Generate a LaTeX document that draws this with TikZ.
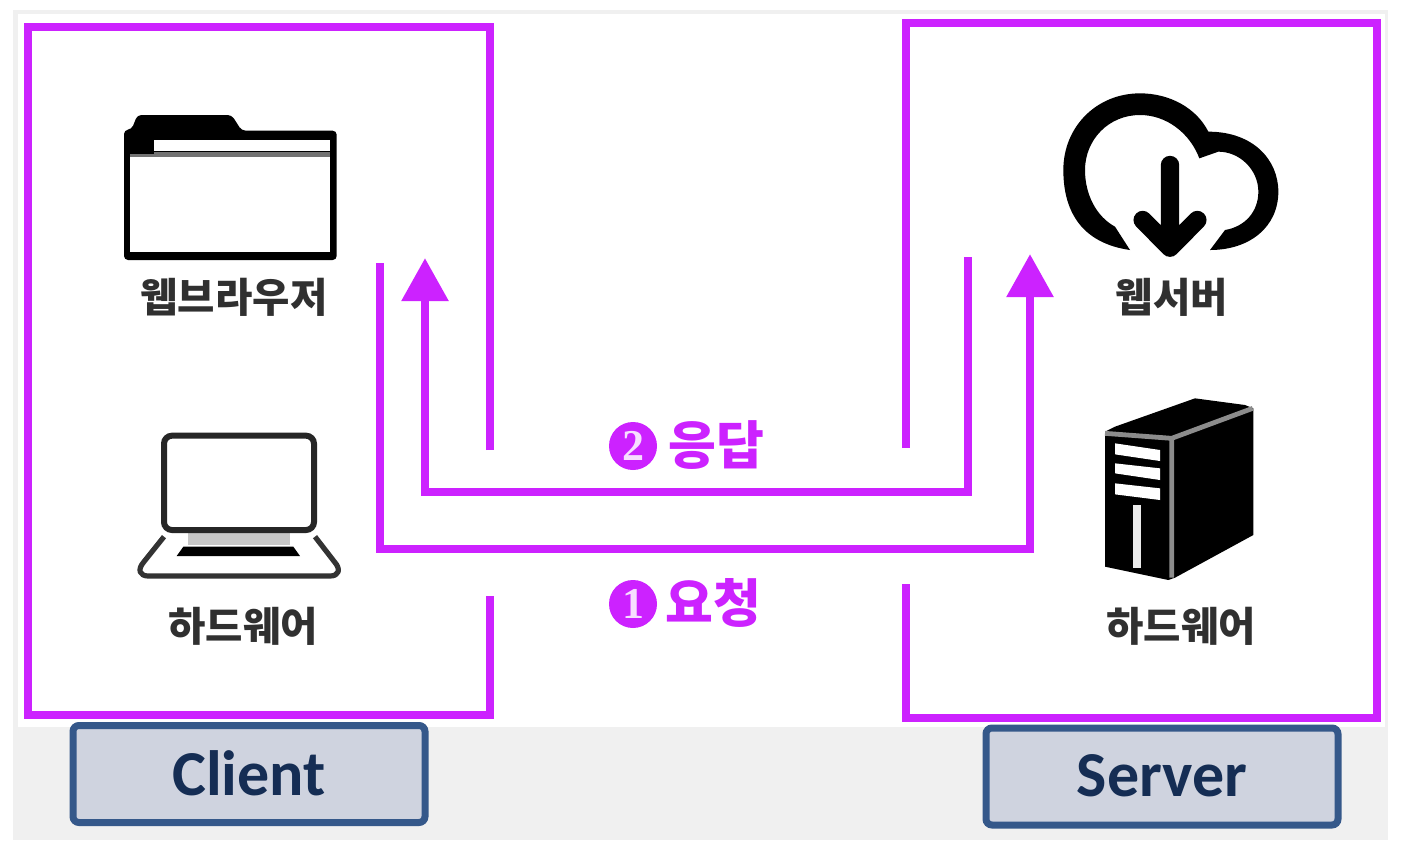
\documentclass[tikz,border=0pt]{standalone}
\usepackage{fontspec}
\usetikzlibrary{arrows.meta}
\newfontfamily\krfont{Noto Sans CJK KR}
\newfontfamily\digitfont{Liberation Serif}
\setmainfont{Carlito}
\definecolor{mag}{HTML}{CC22FF}
\definecolor{boxfill}{HTML}{CFD3DF}
\definecolor{boxline}{HTML}{35588A}
\definecolor{boxtext}{HTML}{152D54}
\definecolor{lab}{HTML}{303030}
\tikzset{
  x=0.5pt,y=-0.5pt,
  frameline/.style={draw=mag,line width=4.4pt,line join=miter},
  flow/.style={draw=mag,line width=4.4pt,line join=miter,-{Triangle[width=22.5pt,length=21.5pt]}},
  caption/.style={font=\krfont\bfseries\fontsize{20.3}{21}\selectfont,text=lab,inner sep=0pt},
  msg/.style={font=\krfont\bfseries\fontsize{26}{27}\selectfont,text=mag,inner sep=0pt},
  badge/.style={circle,fill=mag,minimum size=24pt,inner sep=0pt,text=white!85!mag,font=\digitfont\bfseries\fontsize{22}{22}\selectfont},
  rolebox/.style={draw=boxline,fill=boxfill,line width=3.5pt,rounded corners=3pt,text=boxtext,font=\bfseries\fontsize{32}{33}\selectfont,minimum width=176pt,minimum height=48.5pt,inner sep=0pt},
  zoomA/.style={x=0.16667pt,y=-0.16667pt},
}
\begin{document}
\begin{tikzpicture}
\useasboundingbox (0,0) rectangle (1404,858);
\fill[white] (0,0) rectangle (1404,858);
\fill[black!6] (13,10) rectangle (1388,840);
\fill[white] (18,14) rectangle (1385,727);

% folder icon
\begin{scope}[shift={(100,90)},zoomA]
  \fill[rounded corners=2pt] (72,120) -- (95,118) -- (112,75) -- (395,75) -- (425,122) -- (710,122) -- (710,510) -- (72,510) -- cycle;
  \fill[white] (90,200) rectangle (690,485);
  \fill[white] (162,150) rectangle (690,182);
  \fill[black!55] (162,186) rectangle (690,200);
  \fill[black!55] (90,192) rectangle (162,200);
\end{scope}

% laptop icon
\begin{scope}[shift={(120,420)},zoomA]
  \draw[line width=2.6pt,draw=black!80,line join=round] (132,350) -- (72,425) .. controls (50,450) and (60,468) .. (85,468) -- (630,468) .. controls (655,468) and (665,450) .. (643,425) -- (585,350);
  \fill[black!22] (205,340) rectangle (510,375);
  \fill (190,380) -- (520,380) -- (540,408) -- (170,408) -- cycle;
  \draw[line width=3pt,draw=black!85,rounded corners=4pt,fill=white] (132,47) rectangle (582,330);
\end{scope}

% cloud icon
\begin{scope}[shift={(1040,80)},zoomA]
  \fill (270,510) .. controls (130,490) and (70,400) .. (70,270)
    .. controls (70,140) and (170,40) .. (300,40)
    .. controls (390,40) and (470,85) .. (505,155)
    .. controls (640,155) and (715,240) .. (715,335)
    .. controls (715,440) and (630,510) .. (510,510)
    -- (555,450)
    .. controls (615,440) and (655,395) .. (655,335)
    .. controls (655,270) and (600,215) .. (535,215)
    -- (478,235)
    .. controls (450,160) and (380,105) .. (300,105)
    .. controls (205,105) and (135,180) .. (135,270)
    .. controls (135,345) and (170,410) .. (225,440)
    -- cycle;
  \draw[line width=9.2pt,line cap=round,line join=round] (390,255) -- (390,500) (308,420) -- (390,503) -- (472,420);
\end{scope}

% tower icon
\begin{scope}[shift={(1080,385)},zoomA]
  \fill (75,140) -- (105,125) -- (345,40) -- (495,60) -- (520,70) -- (520,450) -- (285,578) -- (265,585) -- (75,545) -- cycle;
  \draw[black!45,line width=2.4pt] (75,145) -- (275,160) -- (275,578) (275,160) -- (518,70);
  \fill[white] (105,175) -- (240,195) -- (240,228) -- (105,208) -- cycle;
  \fill[white] (105,235) -- (240,250) -- (240,285) -- (105,265) -- cycle;
  \fill[white] (105,295) -- (240,310) -- (240,345) -- (105,328) -- cycle;
  \fill[black!8] (158,360) rectangle (182,550);
\end{scope}

% captions
\node[caption] (browser) at (234,297) {웹브라우저};
\node[caption] (hwleft) at (243,626) {하드웨어};
\node[caption] (webserver) at (1172,297) {웹서버};
\node[caption] (hwright) at (1181,626) {하드웨어};

% frames
\coordinate (c1) at (490,450); \coordinate (c2) at (490,27); \coordinate (c3) at (28,27);
\coordinate (c4) at (28,715); \coordinate (c5) at (490,715); \coordinate (c6) at (490,596);
\draw[frameline] (c1) -- (c2) -- (c3) -- (c4) -- (c5) -- (c6);
\coordinate (s1) at (906,448); \coordinate (s2) at (906,23); \coordinate (s3) at (1377,23);
\coordinate (s4) at (1377,718); \coordinate (s5) at (906,718); \coordinate (s6) at (906,584);
\draw[frameline] (s1) -- (s2) -- (s3) -- (s4) -- (s5) -- (s6);

% flows
\coordinate (rs) at (968,257); \coordinate (rt) at (425,258);
\coordinate (qs) at (380,263); \coordinate (qt) at (1030,254);
\draw[flow] (rs) |- (rt |- 0,492) -- (rt);
\draw[flow] (qs) |- (qt |- 0,549) -- (qt);

% flow labels
\node[badge] (b2) at (633,446) {2};
\node[msg,anchor=west] (resp) at (668,445) {응답};
\node[badge] (b1) at (633,604) {1};
\node[msg,anchor=west] (req) at (665,603) {요청};

% role boxes
\node[rolebox] (client) at (249,774) {\raisebox{1pt}{Client}};
\node[rolebox] (server) at (1162,776.5) {\raisebox{1pt}{Server}};
\end{tikzpicture}
\end{document}
